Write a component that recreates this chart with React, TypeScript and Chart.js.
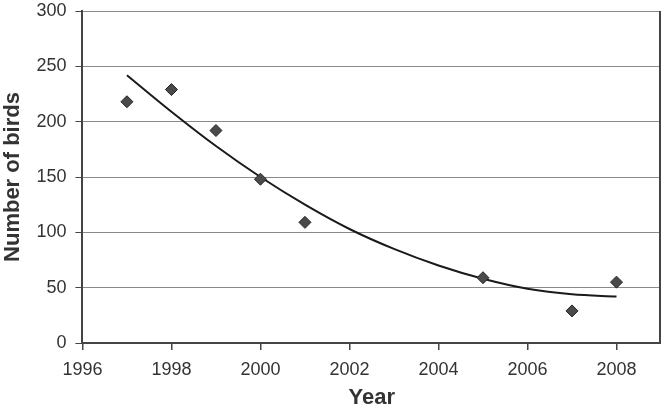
import React, { useEffect, useRef } from "react";
import { Chart, registerables } from "chart.js";

Chart.register(...registerables);

const observedYears = [1997, 1998, 1999, 2000, 2001, 2005, 2007, 2008];
const observedBirds = [218, 229, 192, 148, 109, 59, 29, 55];

const trendYears = [1997, 1998, 1999, 2000, 2001, 2002, 2003, 2004, 2005, 2006, 2007, 2008];
const trendBirds = [242, 209, 178, 150, 125, 103, 85, 70, 58, 49, 44, 42];

const xTicks = [1996, 1998, 2000, 2002, 2004, 2006, 2008];
const yTicks = [0, 50, 100, 150, 200, 250, 300];

const borderPlugin = {
  id: "rightBorder",
  afterDraw(chart: any) {
    const { ctx, chartArea } = chart;
    ctx.save();
    ctx.strokeStyle = "#444";
    ctx.lineWidth = 2;
    ctx.beginPath();
    ctx.moveTo(chartArea.right - 1, chartArea.top);
    ctx.lineTo(chartArea.right - 1, chartArea.bottom);
    ctx.stroke();
    ctx.restore();
  },
};

export default function App() {
  const ref = useRef<HTMLCanvasElement | null>(null);
  useEffect(() => {
    document.body.style.margin = "0";
    const chart = new Chart(ref.current as HTMLCanvasElement, {
      type: "scatter",
      data: {
        datasets: [
          {
            label: "Trend",
            data: trendYears.map((x, i) => ({ x, y: trendBirds[i] })),
            showLine: true,
            borderColor: "#1a1a1a",
            borderWidth: 2,
            pointRadius: 0,
            tension: 0.4,
            cubicInterpolationMode: "monotone",
            order: 2,
          } as any,
          {
            label: "Birds",
            data: observedYears.map((x, i) => ({ x, y: observedBirds[i] })),
            pointStyle: "rectRot",
            pointRadius: 6,
            backgroundColor: "#4a4a4a",
            borderColor: "#222",
            borderWidth: 1,
            order: 1,
          },
        ],
      },
      options: {
        animation: false,
        responsive: false,
        maintainAspectRatio: false,
        layout: { autoPadding: false, padding: { left: 0, right: 0, top: 0, bottom: 0 } },
        plugins: { legend: { display: false }, tooltip: { enabled: false } },
        scales: {
          x: {
            type: "linear",
            min: 1996,
            max: 2009,
            afterBuildTicks: (axis: any) => {
              axis.ticks = xTicks.map((v) => ({ value: v }));
            },
            afterFit: (scale: any) => {
              scale.paddingRight = 0;
              scale.height = 68;
            },
            ticks: {
              includeBounds: false,
              color: "#333",
              font: { family: "Liberation Sans, Arial", size: 18 },
              padding: 9,
              maxRotation: 0,
              callback: (v: any) => String(v),
            },
            grid: {
              drawOnChartArea: false,
              drawTicks: true,
              tickLength: 7,
              color: "#444",
              lineWidth: 1.5,
            },
            border: { color: "#444", width: 2 },
            title: {
              display: true,
              text: "Year",
              color: "#333",
              font: { family: "Liberation Sans, Arial", size: 22, weight: "bold" },
              padding: { top: 3, bottom: 0 },
            },
          },
          y: {
            type: "linear",
            min: 0,
            max: 300,
            afterBuildTicks: (axis: any) => {
              axis.ticks = yTicks.map((v) => ({ value: v }));
            },
            afterFit: (scale: any) => {
              scale.paddingTop = 11;
              scale.paddingBottom = 0;
            },
            ticks: {
              color: "#333",
              font: { family: "Liberation Sans, Arial", size: 18 },
              padding: 9,
              callback: (v: any) => String(v),
            },
            grid: {
              color: "#8a8a8a",
              lineWidth: 1,
              drawTicks: true,
              tickLength: 7,
              tickColor: "#444",
            },
            border: { color: "#444", width: 2 },
            title: {
              display: true,
              text: "Number of birds",
              color: "#333",
              font: { family: "Liberation Sans, Arial", size: 22, weight: "bold" },
              padding: { top: 0, bottom: 1 },
            },
          },
        },
      },
      plugins: [borderPlugin],
    });
    return () => chart.destroy();
  }, []);
  return (
    <div style={{ width: 661, height: 411 }}>
      <canvas ref={ref} width={661} height={411} style={{ display: "block" }} />
    </div>
  );
}
